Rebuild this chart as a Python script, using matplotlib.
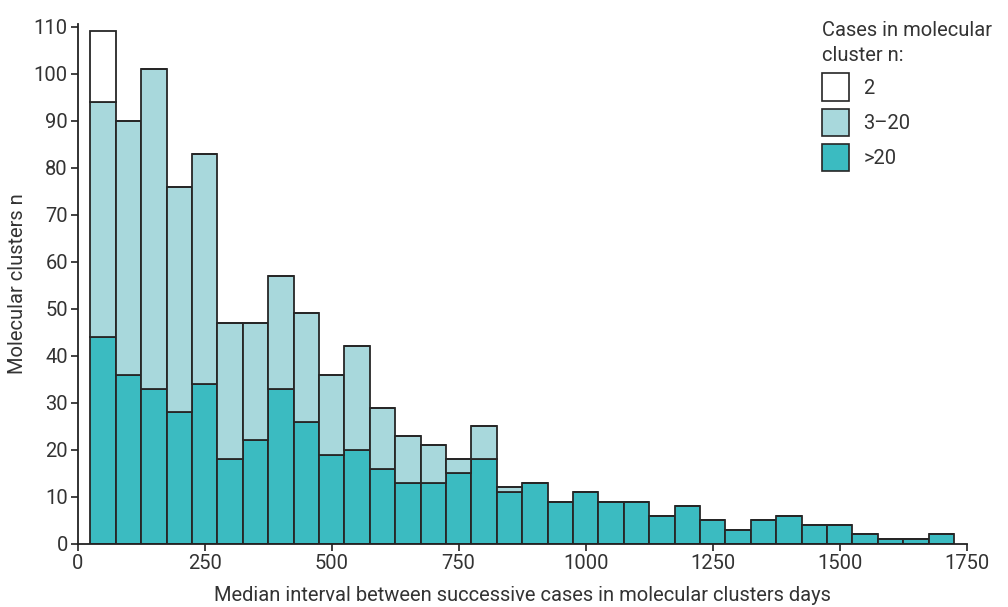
import numpy as np
import matplotlib.pyplot as plt
from matplotlib.patches import Patch

plt.rcParams['font.family'] = ['Roboto', 'DejaVu Sans']

# bin centres (days), bins are 50 days wide
centres = np.arange(50, 1701, 50)
# counts per group
big = [44, 36, 33, 28, 34, 18, 22, 33, 26, 19, 20, 16, 13, 13, 15, 18, 11,
       13, 9, 11, 9, 9, 6, 8, 5, 3, 5, 6, 4, 4, 2, 1, 1, 2]
mid_top = [94, 90, 101, 76, 83, 47, 47, 57, 49, 36, 42, 29, 23, 21, 18, 25, 12,
           13, 9, 11, 9, 9, 6, 8, 5, 3, 5, 6, 4, 4, 2, 1, 1, 2]
total = [109, 90, 101, 76, 83, 47, 47, 57, 49, 36, 42, 29, 23, 21, 18, 25, 12,
         13, 9, 11, 9, 9, 6, 8, 5, 3, 5, 6, 4, 4, 2, 1, 1, 2]

big = np.array(big)
mid = np.array(mid_top) - big
two = np.array(total) - np.array(mid_top)

c_big = '#3bbbc1'
c_mid = '#a8d8dc'
c_two = '#ffffff'
edge = '#262626'
fs = 14.5

fig = plt.figure(figsize=(10.08, 6.07), dpi=100)
ax = fig.add_axes([0.077, 0.104, 0.882, 0.856])

kw = dict(width=50, edgecolor=edge, linewidth=1.3, align='center')
ax.bar(centres, big, color=c_big, **kw)
ax.bar(centres, mid, bottom=big, color=c_mid, **kw)
ax.bar(centres, two, bottom=big + mid, color=c_two, **kw)

ax.set_xlim(0, 1750)
ax.set_ylim(0, 110.5)
ax.set_xticks([0, 250, 500, 750, 1000, 1250, 1500, 1750])
ax.set_yticks(range(0, 111, 10))
for s in ['top', 'right']:
    ax.spines[s].set_visible(False)
for s in ['left', 'bottom']:
    ax.spines[s].set_color('#222222')
    ax.spines[s].set_linewidth(1.3)
ax.tick_params(axis='both', labelsize=fs, colors='#333333', length=5, width=1.3, pad=2)

ax.set_xlabel('Median interval between successive cases in molecular clusters days',
              fontsize=fs, color='#333333', labelpad=10)
ax.set_ylabel('Molecular clusters n', fontsize=fs, color='#333333', labelpad=5)

handles = [Patch(facecolor=c_two, edgecolor=edge, linewidth=1.2, label='2'),
           Patch(facecolor=c_mid, edgecolor=edge, linewidth=1.2, label='3–20'),
           Patch(facecolor=c_big, edgecolor=edge, linewidth=1.2, label='>20')]
leg = ax.legend(handles=handles, title='Cases in molecular\ncluster n:',
                loc='upper left', bbox_to_anchor=(0.826, 1.025), frameon=False,
                fontsize=fs, title_fontsize=fs, alignment='left',
                handlelength=1.35, handleheight=1.7, handletextpad=0.7,
                labelspacing=0.4, borderpad=0)
for t in leg.get_texts():
    t.set_color('#333333')
leg.get_title().set_color('#333333')
leg.get_title().set_linespacing(1.4)

fig.savefig('out.png', dpi=100)
